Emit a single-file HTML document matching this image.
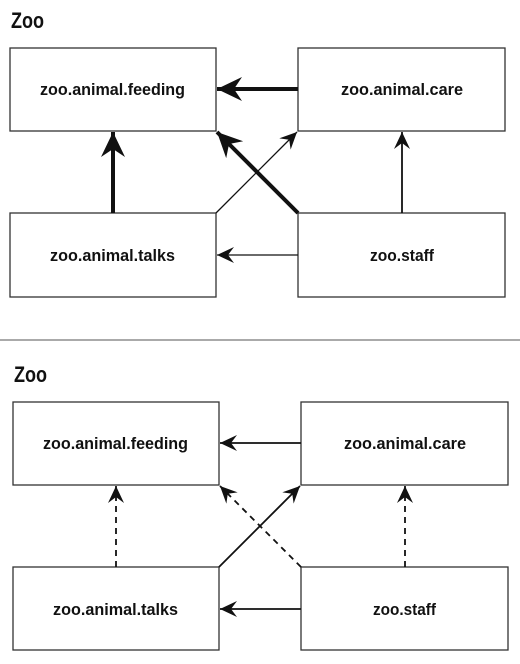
<!DOCTYPE html>
<html><head><meta charset="utf-8"><style>
html,body{margin:0;padding:0;background:#fff;}
svg{display:block;}
text{font-family:"Liberation Sans Narrow","Liberation Sans",sans-serif;font-weight:bold;fill:#111;}
</style></head><body>
<svg width="520" height="664" viewBox="0 0 520 664" xmlns="http://www.w3.org/2000/svg">
<defs>
<marker id="big" markerUnits="userSpaceOnUse" markerWidth="30" markerHeight="30" refX="25" refY="12" orient="auto">
<path d="M25,12 L0,0 L8,12 L0,24 Z" fill="#111"/>
</marker>
<marker id="small" markerUnits="userSpaceOnUse" markerWidth="22" markerHeight="22" refX="17" refY="8" orient="auto">
<path d="M17,8 L0,0 L6,8 L0,16 Z" fill="#111"/>
</marker>
</defs>
<g fill="#fff" stroke="#333" stroke-width="1.3">
<rect x="10" y="48" width="206" height="83"/>
<rect x="298" y="48" width="207" height="83"/>
<rect x="10" y="213" width="206" height="84"/>
<rect x="298" y="213" width="207" height="84"/>
<rect x="13" y="402" width="206" height="83"/>
<rect x="301" y="402" width="207" height="83"/>
<rect x="13" y="567" width="206" height="83"/>
<rect x="301" y="567" width="207" height="83"/>
</g>
<line x1="0" y1="340" x2="520" y2="340" stroke="#555" stroke-width="1"/>
<text x="11" y="28" font-size="22" textLength="33" lengthAdjust="spacingAndGlyphs">Zoo</text>
<text x="14" y="382" font-size="22" textLength="33" lengthAdjust="spacingAndGlyphs">Zoo</text>
<g font-size="17">
<text x="40" y="95" textLength="145" lengthAdjust="spacingAndGlyphs">zoo.animal.feeding</text>
<text x="341" y="95" textLength="122" lengthAdjust="spacingAndGlyphs">zoo.animal.care</text>
<text x="50" y="261" textLength="125" lengthAdjust="spacingAndGlyphs">zoo.animal.talks</text>
<text x="370" y="261" textLength="64" lengthAdjust="spacingAndGlyphs">zoo.staff</text>
<text x="43" y="449" textLength="145" lengthAdjust="spacingAndGlyphs">zoo.animal.feeding</text>
<text x="344" y="449" textLength="122" lengthAdjust="spacingAndGlyphs">zoo.animal.care</text>
<text x="53" y="615" textLength="125" lengthAdjust="spacingAndGlyphs">zoo.animal.talks</text>
<text x="373" y="615" textLength="63" lengthAdjust="spacingAndGlyphs">zoo.staff</text>
</g>
<g stroke="#111" fill="none">
<line x1="298" y1="89" x2="217" y2="89" stroke-width="4" marker-end="url(#big)"/>
<line x1="113" y1="213" x2="113" y2="132" stroke-width="4" marker-end="url(#big)"/>
<line x1="298" y1="213" x2="217" y2="132" stroke-width="4" marker-end="url(#big)"/>
<line x1="216" y1="213" x2="297" y2="132" stroke-width="1.3" marker-end="url(#small)"/>
<line x1="402" y1="213" x2="402" y2="132" stroke-width="1.8" marker-end="url(#small)"/>
<line x1="298" y1="255" x2="217" y2="255" stroke-width="1.3" marker-end="url(#small)"/>

<line x1="301" y1="443" x2="220" y2="443" stroke-width="1.8" marker-end="url(#small)"/>
<line x1="116" y1="567" x2="116" y2="486" stroke-width="1.8" stroke-dasharray="6,5" marker-end="url(#small)"/>
<line x1="301" y1="567" x2="220" y2="486" stroke-width="1.8" stroke-dasharray="6,5" marker-end="url(#small)"/>
<line x1="219" y1="567" x2="300" y2="486" stroke-width="1.8" marker-end="url(#small)"/>
<line x1="405" y1="567" x2="405" y2="486" stroke-width="1.8" stroke-dasharray="6,5" marker-end="url(#small)"/>
<line x1="301" y1="609" x2="220" y2="609" stroke-width="1.8" marker-end="url(#small)"/>
</g>
</svg>
</body></html>
